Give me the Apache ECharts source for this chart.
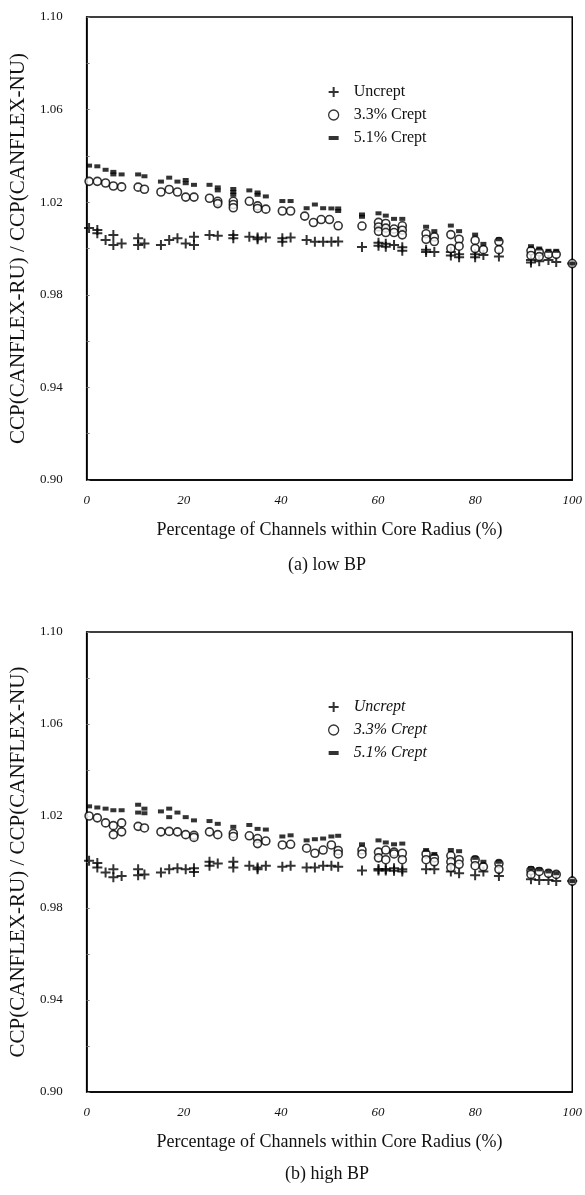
<!DOCTYPE html>
<html>
<head>
<meta charset="UTF-8">
<title>CCP ratio vs channels within core radius</title>
<style>
    html, body {
        margin: 0;
        padding: 0;
        background: #fff;
    }
    #chart {
        width: 585px;
        height: 1195px;
    }
</style>
<script src="https://cdn.jsdelivr.net/npm/echarts@6/dist/echarts.min.js"></script>
</head>
<body>
<div id="chart"></div>
<script>
// axis ticks
var xTicks = [0, 20, 40, 60, 80, 100];
var yTicks = [0.90, 0.94, 0.98, 1.02, 1.06, 1.10];
var seriesNames = ['Uncrept', '3.3% Crept', '5.1% Crept'];
var panelTitles = ['(a) low BP', '(b) high BP'];

// (a) low BP : [percentage of channels, CCP ratio]
var lowUncrept = [
    [0.5,1.0089],[2.2,1.0080],[2.2,1.0066],[3.9,1.0037],[5.5,1.0058],[5.5,1.0015],[7.2,1.0022],
    [10.6,1.0044],[10.6,1.0015],[11.9,1.0022],
    [15.3,1.0015],[17.0,1.0037],[18.7,1.0044],[20.4,1.0022],[22.1,1.0051],[22.1,1.0015],
    [25.3,1.0058],[27.0,1.0055],[30.2,1.0058],[30.2,1.0044],
    [33.5,1.0051],[35.2,1.0048],[35.2,1.0040],[36.9,1.0048],
    [40.3,1.0044],[40.3,1.0029],[42.0,1.0048],
    [45.3,1.0037],[47.0,1.0029],[48.7,1.0029],[50.4,1.0029],[51.8,1.0030],
    [56.7,1.0007],
    [60.1,1.0025],[60.1,1.0012],[61.6,1.0020],[61.6,1.0008],[63.3,1.0015],[65.0,1.0005],[65.0,0.9990],
    [69.9,0.9995],[69.9,0.9985],[71.6,0.9985],
    [75.0,0.9985],[75.0,0.9970],[76.7,0.9975],[76.7,0.9962],
    [80.0,0.9975],[80.0,0.9962],[81.7,0.9972],[84.9,0.9965],
    [91.5,0.9950],[91.5,0.9940],[93.2,0.9945],[95.1,0.9950],[96.7,0.9942],
    [100,0.9935]
];
var lowCrept33 = [
    [0.5,1.0290],[2.2,1.0290],[3.9,1.0283],[5.5,1.0270],[7.2,1.0266],
    [10.6,1.0265],[11.9,1.0256],
    [15.3,1.0244],[17.0,1.0255],[18.7,1.0244],[20.4,1.0222],[22.1,1.0222],
    [25.3,1.0217],[27.0,1.0204],[27.0,1.0194],
    [30.2,1.0204],[30.2,1.0190],[30.2,1.0176],
    [33.5,1.0204],[35.2,1.0184],[35.2,1.0173],[36.9,1.0170],
    [40.3,1.0162],[42.0,1.0162],
    [44.9,1.0140],[46.7,1.0112],[48.3,1.0125],[50.0,1.0125],[51.8,1.0098],
    [56.7,1.0097],
    [60.1,1.0113],[60.1,1.0093],[60.1,1.0074],[61.6,1.0108],[61.6,1.0088],[61.6,1.0069],
    [63.3,1.0084],[63.3,1.0069],[65.0,1.0098],[65.0,1.0079],[65.0,1.0059],
    [69.9,1.0064],[69.9,1.0040],[71.6,1.0050],[71.6,1.0030],
    [75.0,1.0060],[75.0,1.0000],[76.7,1.0040],[76.7,1.0010],
    [80.0,1.0035],[80.0,1.0000],[81.7,0.9995],
    [84.9,1.0030],[84.9,0.9995],
    [91.5,0.9990],[91.5,0.9970],[93.2,0.9985],[93.2,0.9965],[95.1,0.9975],[96.7,0.9975],
    [100,0.9935]
];
var lowCrept51 = [
    [0.5,1.0358],[2.2,1.0355],[3.9,1.0340],[5.5,1.0331],[5.5,1.0320],[7.2,1.0320],
    [10.6,1.0320],[11.9,1.0312],
    [15.3,1.0289],[17.0,1.0306],[18.7,1.0289],[20.4,1.0296],[20.4,1.0282],[22.1,1.0275],
    [25.3,1.0275],[27.0,1.0264],[27.0,1.0251],
    [30.2,1.0257],[30.2,1.0244],[30.2,1.0232],
    [33.5,1.0251],[35.2,1.0242],[35.2,1.0232],[36.9,1.0225],
    [40.3,1.0205],[42.0,1.0205],
    [45.3,1.0174],[47.0,1.0190],[48.7,1.0174],[50.4,1.0173],[51.8,1.0173],[51.8,1.0162],
    [56.7,1.0147],[56.7,1.0137],
    [60.1,1.0152],[61.6,1.0142],[63.3,1.0128],[65.0,1.0128],
    [69.9,1.0094],[71.6,1.0075],
    [75.0,1.0099],[76.7,1.0075],
    [80.0,1.0060],[81.7,1.0020],[84.9,1.0040],
    [91.5,1.0010],[93.2,1.0000],[95.1,0.9990],[96.7,0.9990],
    [100,0.9935]
];

// (b) high BP
var highUncrept = [
    [0.5,1.0005],[2.2,0.9996],[2.2,0.9976],[3.9,0.9954],[5.5,0.9968],[5.5,0.9934],[7.2,0.9939],
    [10.6,0.9968],[10.6,0.9942],[11.9,0.9946],
    [15.3,0.9954],[17.0,0.9968],[18.7,0.9973],[20.4,0.9968],[22.1,0.9973],[22.1,0.9956],
    [25.3,1.0001],[25.3,0.9984],[27.0,0.9993],[30.2,1.0001],[30.2,0.9976],
    [33.5,0.9984],[35.2,0.9976],[35.2,0.9968],[36.9,0.9984],
    [40.3,0.9979],[42.0,0.9984],
    [45.3,0.9976],[47.0,0.9976],[48.7,0.9984],[50.4,0.9984],[51.8,0.9979],
    [56.7,0.9963],
    [60.1,0.9963],[60.1,0.9970],[61.6,0.9963],[61.6,0.9970],[63.3,0.9973],[63.3,0.9962],[65.0,0.9959],[65.0,0.9968],
    [69.9,0.9968],[71.6,0.9968],
    [75.0,0.9959],[76.7,0.9951],
    [80.0,0.9942],[81.7,0.9959],[84.9,0.9939],
    [91.5,0.9925],[93.2,0.9922],[95.1,0.9922],[96.7,0.9917],
    [100,0.9917]
];
var highCrept33 = [
    [0.5,1.0200],[2.2,1.0192],[3.9,1.0170],[5.5,1.0158],[5.5,1.0119],[7.2,1.0170],[7.2,1.0131],
    [10.6,1.0155],[11.9,1.0148],
    [15.3,1.0131],[17.0,1.0133],[18.7,1.0131],[20.4,1.0119],[22.1,1.0116],[22.1,1.0107],
    [25.3,1.0131],[27.0,1.0119],[30.2,1.0124],[30.2,1.0111],
    [33.5,1.0114],[35.2,1.0102],[35.2,1.0080],[36.9,1.0091],
    [40.3,1.0074],[42.0,1.0077],
    [45.3,1.0060],[47.0,1.0038],[48.7,1.0052],[50.4,1.0074],[51.8,1.0050],[51.8,1.0035],
    [56.7,1.0052],[56.7,1.0035],
    [60.1,1.0043],[60.1,1.0018],[61.6,1.0052],[61.6,1.0010],[63.3,1.0043],[63.3,1.0035],[65.0,1.0038],[65.0,1.0010],
    [69.9,1.0035],[69.9,1.0010],[71.6,1.0018],[71.6,1.0001],
    [75.0,1.0027],[75.0,1.0001],[75.0,0.9976],[76.7,1.0010],[76.7,0.9990],
    [80.0,1.0010],[80.0,0.9984],[81.7,0.9979],
    [84.9,0.9993],[84.9,0.9968],
    [91.5,0.9963],[91.5,0.9946],[93.2,0.9959],[95.1,0.9951],[96.7,0.9946],
    [100,0.9917]
];
var highCrept51 = [
    [0.5,1.0242],[2.2,1.0237],[3.9,1.0232],[5.5,1.0225],[7.2,1.0225],
    [10.6,1.0249],[10.6,1.0215],[11.9,1.0232],[11.9,1.0212],
    [15.3,1.0220],[17.0,1.0232],[17.0,1.0195],[18.7,1.0215],[20.4,1.0195],[22.1,1.0181],
    [25.3,1.0178],[27.0,1.0166],[30.2,1.0153],
    [33.5,1.0161],[35.2,1.0144],[36.9,1.0141],
    [40.3,1.0111],[42.0,1.0116],
    [45.3,1.0094],[47.0,1.0099],[48.7,1.0102],[50.4,1.0111],[51.8,1.0114],
    [56.7,1.0077],
    [60.1,1.0094],[61.6,1.0085],[63.3,1.0077],[65.0,1.0080],
    [69.9,1.0052],[71.6,1.0035],
    [75.0,1.0052],[76.7,1.0047],
    [80.0,1.0018],[81.7,1.0001],[84.9,1.0001],
    [91.5,0.9973],[93.2,0.9968],[95.1,0.9959],[96.7,0.9951],
    [100,0.9917]
];

var FONT = 'Liberation Serif';
var plusPath = 'path://M4,0H6V10H4Z M0,4H10V6H0Z';
var dashPath = 'path://M0,0H6V2.4H0Z';

// plot boxes, one per panel
var grids = [
    { left: 82, top: 17, width: 493, height: 463 },
    { left: 83, top: 632, width: 492, height: 460 }
];

function xAxisFor(i) {
    return {
        type: 'value', gridIndex: i,
        min: xTicks[0], max: xTicks[xTicks.length - 1], interval: xTicks[1] - xTicks[0],
        name: 'Percentage of Channels within Core Radius (%)',
        nameLocation: 'middle', nameGap: 41,
        nameTextStyle: { fontFamily: FONT, fontSize: 18, color: '#111' },
        axisLine: { show: true, lineStyle: { color: '#000', width: 1.5 } },
        axisTick: { show: false },
        splitLine: { show: false },
        axisLabel: { fontFamily: FONT, fontSize: 13, fontStyle: 'italic', color: '#111', margin: 14 }
    };
}

function yAxisFor(i) {
    return {
        type: 'value', gridIndex: i,
        min: yTicks[0], max: yTicks[yTicks.length - 1], interval: 0.04,
        name: 'CCP(CANFLEX-RU) / CCP(CANFLEX-NU)',
        nameLocation: 'middle', nameGap: 55, nameRotate: 90,
        nameTextStyle: { fontFamily: FONT, fontSize: 21, color: '#111' },
        axisLine: { show: true, lineStyle: { color: '#000', width: 1.5 } },
        axisTick: { show: true, inside: true, length: 3, lineStyle: { color: '#777' } },
        minorTick: { show: true, splitNumber: 2, length: 3, lineStyle: { color: '#777' } },
        splitLine: { show: false },
        axisLabel: {
            fontFamily: FONT, fontSize: 13, color: '#111', margin: 24,
            formatter: function (v) { return v.toFixed(2); }
        }
    };
}

function scatter(name, data, i) {
    var s = {
        name: name, type: 'scatter', xAxisIndex: i, yAxisIndex: i,
        data: data, clip: false, silent: true
    };
    if (name === 'Uncrept') {
        s.symbol = plusPath;
        s.symbolSize = 10;
        s.itemStyle = { color: '#000' };
    } else if (name === '3.3% Crept') {
        s.symbol = 'circle';
        s.symbolSize = 8;
        s.itemStyle = { color: '#fff', borderColor: '#000', borderWidth: 1.6 };
    } else {
        s.symbol = 'rect';
        s.symbolSize = [6, 4];
        s.itemStyle = { color: '#000' };
    }
    return s;
}

function legendFor(top, italic) {
    return {
        orient: 'vertical', left: 323, top: top,
        itemWidth: 10, itemHeight: 10, itemGap: 7,
        selectedMode: false,
        textStyle: {
            fontFamily: FONT, fontSize: 16, color: '#111',
            fontStyle: italic ? 'italic' : 'normal', padding: [0, 0, 0, 10]
        },
        data: [
            { name: seriesNames[0], icon: plusPath, itemStyle: { color: '#000' } },
            { name: seriesNames[1], icon: 'circle', itemStyle: { color: '#fff', borderColor: '#000', borderWidth: 1.3 } },
            { name: seriesNames[2], icon: dashPath, itemStyle: { color: '#000' } }
        ]
    };
}

var chart = echarts.init(document.getElementById('chart'), null, { renderer: 'canvas' });

var option = {
    animation: false,
    backgroundColor: '#fff',
    title: [
        { text: panelTitles[0], left: 322, top: 551, textAlign: 'center',
          textStyle: { fontFamily: FONT, fontSize: 18, fontWeight: 'normal', color: '#111' } },
        { text: panelTitles[1], left: 322, top: 1160, textAlign: 'center',
          textStyle: { fontFamily: FONT, fontSize: 18, fontWeight: 'normal', color: '#111' } }
    ],
    legend: [legendFor(79, false), legendFor(694, true)],
    grid: grids.map(function (g) {
        return Object.assign({ show: true, borderColor: '#000', borderWidth: 1.5, backgroundColor: 'transparent' }, g);
    }),
    xAxis: [xAxisFor(0), xAxisFor(1)],
    yAxis: [yAxisFor(0), yAxisFor(1)],
    series: [
        scatter('Uncrept', lowUncrept, 0),
        scatter('3.3% Crept', lowCrept33, 0),
        scatter('5.1% Crept', lowCrept51, 0),
        scatter('Uncrept', highUncrept, 1),
        scatter('3.3% Crept', highCrept33, 1),
        scatter('5.1% Crept', highCrept51, 1)
    ]
};

chart.setOption(option);
</script>
</body>
</html>
